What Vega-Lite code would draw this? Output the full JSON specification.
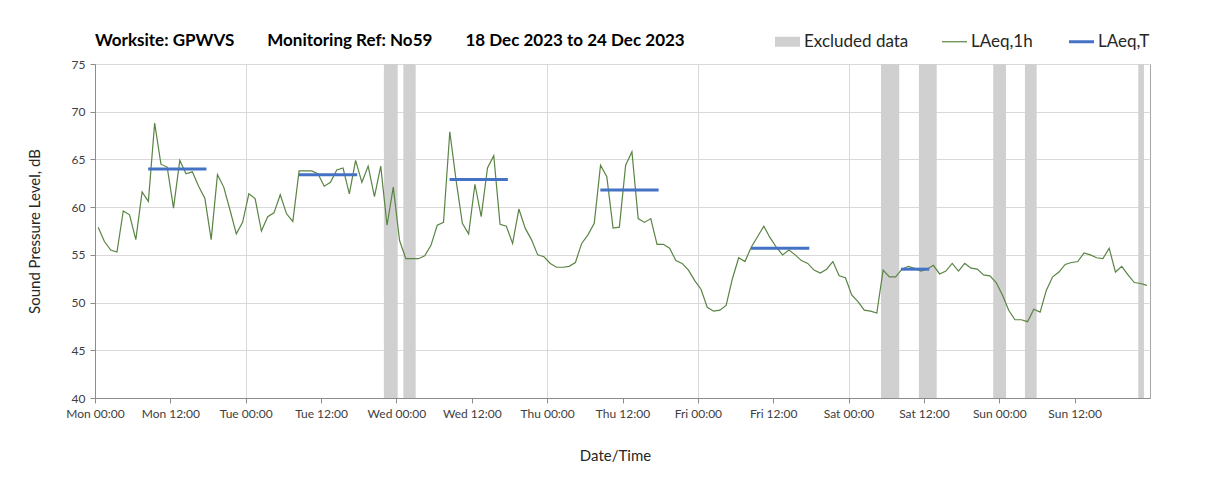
{
  "$schema": "https://vega.github.io/schema/vega-lite/v6.json",
  "width": 1055,
  "height": 334,
  "autosize": {"type": "none"},
  "padding": {"left": 95, "top": 64, "right": 58, "bottom": 94},
  "background": "white",
  "config": {"font": "Lato", "view": {"stroke": "#a6a6a6", "strokeWidth": 1}},
  "title": {
    "text": "Worksite: GPWVS\u00a0\u00a0\u00a0\u00a0\u00a0\u00a0\u00a0\u00a0Monitoring Ref: No59\u00a0\u00a0\u00a0\u00a0\u00a0\u00a0\u00a0\u00a018 Dec 2023 to 24 Dec 2023",
    "anchor": "start",
    "frame": "group",
    "fontSize": 17,
    "fontWeight": "bold",
    "color": "#000000",
    "font": "Lato",
    "offset": 18,
    "dy": 35
  },
  "datasets": {
    "hourly": [
      {"t": "2023-12-18T00:30:00", "level": 57.9}, {"t": "2023-12-18T01:30:00", "level": 56.4}, {"t": "2023-12-18T02:30:00", "level": 55.5}, {"t": "2023-12-18T03:30:00", "level": 55.3},
      {"t": "2023-12-18T04:30:00", "level": 59.6}, {"t": "2023-12-18T05:30:00", "level": 59.2}, {"t": "2023-12-18T06:30:00", "level": 56.6}, {"t": "2023-12-18T07:30:00", "level": 61.6},
      {"t": "2023-12-18T08:30:00", "level": 60.6}, {"t": "2023-12-18T09:30:00", "level": 68.8}, {"t": "2023-12-18T10:30:00", "level": 64.5}, {"t": "2023-12-18T11:30:00", "level": 64.2},
      {"t": "2023-12-18T12:30:00", "level": 59.9}, {"t": "2023-12-18T13:30:00", "level": 64.9}, {"t": "2023-12-18T14:30:00", "level": 63.5}, {"t": "2023-12-18T15:30:00", "level": 63.7},
      {"t": "2023-12-18T16:30:00", "level": 62.2}, {"t": "2023-12-18T17:30:00", "level": 60.9}, {"t": "2023-12-18T18:30:00", "level": 56.6}, {"t": "2023-12-18T19:30:00", "level": 63.4},
      {"t": "2023-12-18T20:30:00", "level": 62.1}, {"t": "2023-12-18T21:30:00", "level": 59.7}, {"t": "2023-12-18T22:30:00", "level": 57.2}, {"t": "2023-12-18T23:30:00", "level": 58.4},
      {"t": "2023-12-19T00:30:00", "level": 61.4}, {"t": "2023-12-19T01:30:00", "level": 60.9}, {"t": "2023-12-19T02:30:00", "level": 57.5}, {"t": "2023-12-19T03:30:00", "level": 59.0},
      {"t": "2023-12-19T04:30:00", "level": 59.4}, {"t": "2023-12-19T05:30:00", "level": 61.3}, {"t": "2023-12-19T06:30:00", "level": 59.3}, {"t": "2023-12-19T07:30:00", "level": 58.5},
      {"t": "2023-12-19T08:30:00", "level": 63.8}, {"t": "2023-12-19T09:30:00", "level": 63.8}, {"t": "2023-12-19T10:30:00", "level": 63.8}, {"t": "2023-12-19T11:30:00", "level": 63.5},
      {"t": "2023-12-19T12:30:00", "level": 62.2}, {"t": "2023-12-19T13:30:00", "level": 62.6}, {"t": "2023-12-19T14:30:00", "level": 63.9}, {"t": "2023-12-19T15:30:00", "level": 64.1},
      {"t": "2023-12-19T16:30:00", "level": 61.4}, {"t": "2023-12-19T17:30:00", "level": 64.9}, {"t": "2023-12-19T18:30:00", "level": 62.6}, {"t": "2023-12-19T19:30:00", "level": 64.3},
      {"t": "2023-12-19T20:30:00", "level": 61.1}, {"t": "2023-12-19T21:30:00", "level": 64.3}, {"t": "2023-12-19T22:30:00", "level": 58.1}, {"t": "2023-12-19T23:30:00", "level": 62.1},
      {"t": "2023-12-20T00:30:00", "level": 56.5}, {"t": "2023-12-20T01:30:00", "level": 54.6}, {"t": "2023-12-20T02:30:00", "level": 54.6}, {"t": "2023-12-20T03:30:00", "level": 54.6},
      {"t": "2023-12-20T04:30:00", "level": 54.9}, {"t": "2023-12-20T05:30:00", "level": 56.0}, {"t": "2023-12-20T06:30:00", "level": 58.1}, {"t": "2023-12-20T07:30:00", "level": 58.4},
      {"t": "2023-12-20T08:30:00", "level": 67.9}, {"t": "2023-12-20T09:30:00", "level": 62.8}, {"t": "2023-12-20T10:30:00", "level": 58.3}, {"t": "2023-12-20T11:30:00", "level": 57.2},
      {"t": "2023-12-20T12:30:00", "level": 62.4}, {"t": "2023-12-20T13:30:00", "level": 59.0}, {"t": "2023-12-20T14:30:00", "level": 64.1}, {"t": "2023-12-20T15:30:00", "level": 65.4},
      {"t": "2023-12-20T16:30:00", "level": 58.2}, {"t": "2023-12-20T17:30:00", "level": 58.0}, {"t": "2023-12-20T18:30:00", "level": 56.2}, {"t": "2023-12-20T19:30:00", "level": 59.8},
      {"t": "2023-12-20T20:30:00", "level": 57.8}, {"t": "2023-12-20T21:30:00", "level": 56.6}, {"t": "2023-12-20T22:30:00", "level": 55.0}, {"t": "2023-12-20T23:30:00", "level": 54.8},
      {"t": "2023-12-21T00:30:00", "level": 54.1}, {"t": "2023-12-21T01:30:00", "level": 53.7}, {"t": "2023-12-21T02:30:00", "level": 53.7}, {"t": "2023-12-21T03:30:00", "level": 53.8},
      {"t": "2023-12-21T04:30:00", "level": 54.2}, {"t": "2023-12-21T05:30:00", "level": 56.2}, {"t": "2023-12-21T06:30:00", "level": 57.1}, {"t": "2023-12-21T07:30:00", "level": 58.3},
      {"t": "2023-12-21T08:30:00", "level": 64.4}, {"t": "2023-12-21T09:30:00", "level": 63.2}, {"t": "2023-12-21T10:30:00", "level": 57.8}, {"t": "2023-12-21T11:30:00", "level": 57.9},
      {"t": "2023-12-21T12:30:00", "level": 64.4}, {"t": "2023-12-21T13:30:00", "level": 65.8}, {"t": "2023-12-21T14:30:00", "level": 58.8}, {"t": "2023-12-21T15:30:00", "level": 58.4},
      {"t": "2023-12-21T16:30:00", "level": 58.8}, {"t": "2023-12-21T17:30:00", "level": 56.1}, {"t": "2023-12-21T18:30:00", "level": 56.1}, {"t": "2023-12-21T19:30:00", "level": 55.7},
      {"t": "2023-12-21T20:30:00", "level": 54.4}, {"t": "2023-12-21T21:30:00", "level": 54.1}, {"t": "2023-12-21T22:30:00", "level": 53.4}, {"t": "2023-12-21T23:30:00", "level": 52.3},
      {"t": "2023-12-22T00:30:00", "level": 51.4}, {"t": "2023-12-22T01:30:00", "level": 49.5}, {"t": "2023-12-22T02:30:00", "level": 49.1}, {"t": "2023-12-22T03:30:00", "level": 49.2},
      {"t": "2023-12-22T04:30:00", "level": 49.7}, {"t": "2023-12-22T05:30:00", "level": 52.5}, {"t": "2023-12-22T06:30:00", "level": 54.7}, {"t": "2023-12-22T07:30:00", "level": 54.3},
      {"t": "2023-12-22T08:30:00", "level": 55.8}, {"t": "2023-12-22T09:30:00", "level": 56.9}, {"t": "2023-12-22T10:30:00", "level": 58.0}, {"t": "2023-12-22T11:30:00", "level": 56.8},
      {"t": "2023-12-22T12:30:00", "level": 55.8}, {"t": "2023-12-22T13:30:00", "level": 55.0}, {"t": "2023-12-22T14:30:00", "level": 55.5}, {"t": "2023-12-22T15:30:00", "level": 55.0},
      {"t": "2023-12-22T16:30:00", "level": 54.4}, {"t": "2023-12-22T17:30:00", "level": 54.1}, {"t": "2023-12-22T18:30:00", "level": 53.4}, {"t": "2023-12-22T19:30:00", "level": 53.1},
      {"t": "2023-12-22T20:30:00", "level": 53.5}, {"t": "2023-12-22T21:30:00", "level": 54.3}, {"t": "2023-12-22T22:30:00", "level": 52.8}, {"t": "2023-12-22T23:30:00", "level": 52.6},
      {"t": "2023-12-23T00:30:00", "level": 50.8}, {"t": "2023-12-23T01:30:00", "level": 50.1}, {"t": "2023-12-23T02:30:00", "level": 49.2}, {"t": "2023-12-23T03:30:00", "level": 49.1},
      {"t": "2023-12-23T04:30:00", "level": 48.9}, {"t": "2023-12-23T05:30:00", "level": 53.4}, {"t": "2023-12-23T06:30:00", "level": 52.7}, {"t": "2023-12-23T07:30:00", "level": 52.7},
      {"t": "2023-12-23T08:30:00", "level": 53.5}, {"t": "2023-12-23T09:30:00", "level": 53.8}, {"t": "2023-12-23T10:30:00", "level": 53.6}, {"t": "2023-12-23T11:30:00", "level": 53.3},
      {"t": "2023-12-23T12:30:00", "level": 53.5}, {"t": "2023-12-23T13:30:00", "level": 53.9}, {"t": "2023-12-23T14:30:00", "level": 53.0}, {"t": "2023-12-23T15:30:00", "level": 53.3},
      {"t": "2023-12-23T16:30:00", "level": 54.1}, {"t": "2023-12-23T17:30:00", "level": 53.3}, {"t": "2023-12-23T18:30:00", "level": 54.1}, {"t": "2023-12-23T19:30:00", "level": 53.6},
      {"t": "2023-12-23T20:30:00", "level": 53.5}, {"t": "2023-12-23T21:30:00", "level": 52.9}, {"t": "2023-12-23T22:30:00", "level": 52.8}, {"t": "2023-12-23T23:30:00", "level": 52.1},
      {"t": "2023-12-24T00:30:00", "level": 50.8}, {"t": "2023-12-24T01:30:00", "level": 49.2}, {"t": "2023-12-24T02:30:00", "level": 48.2}, {"t": "2023-12-24T03:30:00", "level": 48.2},
      {"t": "2023-12-24T04:30:00", "level": 48.0}, {"t": "2023-12-24T05:30:00", "level": 49.3}, {"t": "2023-12-24T06:30:00", "level": 49.0}, {"t": "2023-12-24T07:30:00", "level": 51.3},
      {"t": "2023-12-24T08:30:00", "level": 52.7}, {"t": "2023-12-24T09:30:00", "level": 53.2}, {"t": "2023-12-24T10:30:00", "level": 54.0}, {"t": "2023-12-24T11:30:00", "level": 54.2},
      {"t": "2023-12-24T12:30:00", "level": 54.3}, {"t": "2023-12-24T13:30:00", "level": 55.2}, {"t": "2023-12-24T14:30:00", "level": 55.0}, {"t": "2023-12-24T15:30:00", "level": 54.7},
      {"t": "2023-12-24T16:30:00", "level": 54.6}, {"t": "2023-12-24T17:30:00", "level": 55.7}, {"t": "2023-12-24T18:30:00", "level": 53.2}, {"t": "2023-12-24T19:30:00", "level": 53.8},
      {"t": "2023-12-24T20:30:00", "level": 52.9}, {"t": "2023-12-24T21:30:00", "level": 52.1}, {"t": "2023-12-24T22:30:00", "level": 52.0}, {"t": "2023-12-24T23:30:00", "level": 51.8}
    ],
    "excluded": [
      {"t": "2023-12-19T22:00:00", "t2": "2023-12-20T00:12:00"},
      {"t": "2023-12-20T01:06:00", "t2": "2023-12-20T03:04:00"},
      {"t": "2023-12-23T05:10:00", "t2": "2023-12-23T08:04:00"},
      {"t": "2023-12-23T11:12:00", "t2": "2023-12-23T14:02:00"},
      {"t": "2023-12-23T23:02:00", "t2": "2023-12-24T01:04:00"},
      {"t": "2023-12-24T04:05:00", "t2": "2023-12-24T05:57:00"},
      {"t": "2023-12-24T22:08:00", "t2": "2023-12-24T23:02:00"}
    ],
    "period": [
      {"t": "2023-12-18T08:28:00", "t2": "2023-12-18T17:45:00", "level": 64.0},
      {"t": "2023-12-19T08:28:00", "t2": "2023-12-19T17:45:00", "level": 63.4},
      {"t": "2023-12-20T08:28:00", "t2": "2023-12-20T17:45:00", "level": 62.9},
      {"t": "2023-12-21T08:28:00", "t2": "2023-12-21T17:45:00", "level": 61.8},
      {"t": "2023-12-22T08:28:00", "t2": "2023-12-22T17:45:00", "level": 55.7},
      {"t": "2023-12-23T08:20:00", "t2": "2023-12-23T12:51:00", "level": 53.5}
    ]
  },
  "layer": [
    {
      "data": {"name": "excluded"},
      "mark": {"type": "rect"},
      "encoding": {
        "x": {
          "field": "t", "type": "temporal",
          "scale": {"domain": [{"year": 2023, "month": 12, "date": 18}, {"year": 2023, "month": 12, "date": 25}]},
          "axis": {
            "title": "Date/Time",
            "values": [
              {"year": 2023, "month": 12, "date": 18, "hours": 0}, {"year": 2023, "month": 12, "date": 18, "hours": 12},
              {"year": 2023, "month": 12, "date": 19, "hours": 0}, {"year": 2023, "month": 12, "date": 19, "hours": 12},
              {"year": 2023, "month": 12, "date": 20, "hours": 0}, {"year": 2023, "month": 12, "date": 20, "hours": 12},
              {"year": 2023, "month": 12, "date": 21, "hours": 0}, {"year": 2023, "month": 12, "date": 21, "hours": 12},
              {"year": 2023, "month": 12, "date": 22, "hours": 0}, {"year": 2023, "month": 12, "date": 22, "hours": 12},
              {"year": 2023, "month": 12, "date": 23, "hours": 0}, {"year": 2023, "month": 12, "date": 23, "hours": 12},
              {"year": 2023, "month": 12, "date": 24, "hours": 0}, {"year": 2023, "month": 12, "date": 24, "hours": 12}
            ],
            "format": "%a %H:%M",
            "labelFlush": false,
            "labelOverlap": false,
            "labelFontSize": 12,
            "labelColor": "#404040",
            "labelPadding": 5,
            "labelDx": 3,
            "tickSize": 5,
            "tickColor": "#8c8c8c",
            "domainColor": "#8c8c8c",
            "grid": true,
            "gridColor": "#d9d9d9",
            "gridOpacity": {"condition": {"test": "hours(datum.value) === 0", "value": 1}, "value": 0},
            "titleFontSize": 15,
            "titleFontWeight": "normal",
            "titleColor": "#262626",
            "titlePadding": 29,
            "titleX": 520
          }
        },
        "x2": {"field": "t2"},
        "color": {
          "datum": "Excluded data",
          "scale": {"domain": ["Excluded data", "LAeq,1h", "LAeq,T"], "range": ["#d0d0d0", "#5a8444", "#4472c4"]},
          "legend": {
            "orient": "none",
            "legendX": 684,
            "legendY": -31,
            "direction": "horizontal",
            "title": null,
            "labelFontSize": 17,
            "labelColor": "#262626",
            "labelOffset": 8,
            "columnPadding": 30,
            "symbolSize": 625,
            "encode": {
              "symbols": {
                "update": {
                  "shape": {"signal": "datum.value === 'Excluded data' ? 'M-1,-0.4H1V0.4H-1Z' : 'stroke'"},
                  "fill": {"signal": "datum.value === 'Excluded data' ? '#d0d0d0' : 'transparent'"},
                  "stroke": {"signal": "datum.value === 'LAeq,T' ? '#4472c4' : (datum.value === 'LAeq,1h' ? '#5a8444' : 'transparent')"},
                  "strokeWidth": {"signal": "datum.value === 'LAeq,T' ? 3 : (datum.value === 'LAeq,1h' ? 1.2 : 0)"},
                  "opacity": {"value": 1}
                }
              }
            }
          }
        }
      }
    },
    {
      "data": {"name": "hourly"},
      "mark": {"type": "line", "strokeWidth": 1.2},
      "encoding": {
        "x": {"field": "t", "type": "temporal"},
        "y": {
          "field": "level", "type": "quantitative",
          "scale": {"domain": [40, 75], "nice": false, "zero": false},
          "axis": {
            "title": "Sound Pressure Level, dB",
            "values": [40, 45, 50, 55, 60, 65, 70, 75],
            "labelFontSize": 12,
            "labelColor": "#404040",
            "labelPadding": 5,
            "tickSize": 5,
            "tickColor": "#8c8c8c",
            "domainColor": "#8c8c8c",
            "gridColor": "#d9d9d9",
            "titleFontSize": 15,
            "titleFontWeight": "normal",
            "titleColor": "#262626",
            "titlePadding": 29
          }
        },
        "color": {"datum": "LAeq,1h"}
      }
    },
    {
      "data": {"name": "period"},
      "mark": {"type": "rule", "strokeWidth": 3},
      "encoding": {
        "x": {"field": "t", "type": "temporal"},
        "x2": {"field": "t2"},
        "y": {"field": "level", "type": "quantitative"},
        "color": {"datum": "LAeq,T"}
      }
    }
  ]
}
